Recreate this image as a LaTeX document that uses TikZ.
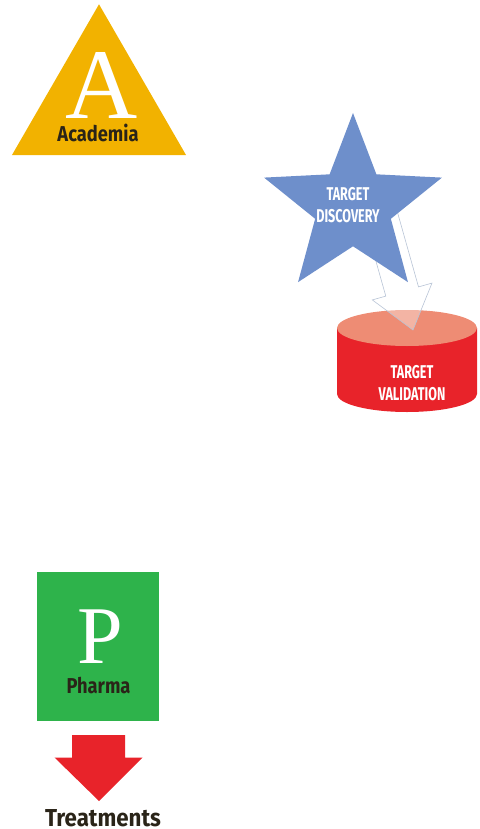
\documentclass[tikz,border=0pt]{standalone}
\usepackage{fontspec}
\setmainfont{Liberation Serif}
\newfontfamily\condfont{Fira Sans}[FakeStretch=0.85]
\newfontfamily\capsfont{Fira Sans}[FakeStretch=0.68]
\usetikzlibrary{shapes.geometric, positioning, calc}

\definecolor{acadgold}{HTML}{F2B200}
\definecolor{discblue}{HTML}{6E8FCB}
\definecolor{cylred}{HTML}{E8232A}
\definecolor{cyltop}{HTML}{EE8C74}
\definecolor{arrline}{HTML}{B8C4D6}
\definecolor{pharmagreen}{HTML}{2EB34B}
\definecolor{darktext}{HTML}{2A2418}

\begin{document}
\begin{tikzpicture}[x=1pt, y=-1pt]
					\tikzstyle{bigletter}=[text=white, inner sep=0, anchor=base, text depth=0pt, text height=66pt, font=\fontsize{100}{100}\selectfont]
					\tikzstyle{word}=[text=darktext, inner sep=0, anchor=base, text depth=0pt, font=\condfont\bfseries\fontsize{21.5}{24}\selectfont]
					\tikzstyle{capsword}=[text=white, inner sep=0, align=center, font=\capsfont\bfseries\fontsize{18.5}{21.5}\selectfont]
					\useasboundingbox (0,0) rectangle (479,829);
					% academia
					\node (acad) [regular polygon, regular polygon sides=3, fill=acadgold, minimum size=201pt, inner sep=0, outer sep=0] at (99,104.8) {};
					\node (acadA) [bigletter] at (102,119) {A};
					\node (acadlbl) [word] at (98,142) {Academia};
					% target validation, arrow goes under the star
					\coordinate (disccenter) at (353,206.5);
					\node (valid) [rectangle, minimum width=140pt, minimum height=102pt, inner sep=0, outer sep=0] at (407,361) {};
					\fill[cylred] ($(valid.north west)+(0,18)$) -- ($(valid.south west)+(0,-18)$) arc[start angle=180, end angle=360, x radius=70pt, y radius=18pt]
						-- ($(valid.north east)+(0,18)$) -- cycle;
					\fill[cyltop] ($(valid.north)+(0,18)$) ellipse[x radius=70pt, y radius=18pt];
					\node (validlbl) [capsword] at (412,383) {TARGET\\VALIDATION};
					\coordinate (arrtail) at ($(disccenter)+(28,10)$);
					\coordinate (arrtip) at ($(valid.center)+(6,-31)$);
					\coordinate (arrbase) at ($(arrtip)!40pt!(arrtail)$);
					\draw[draw=arrline, fill=white, fill opacity=0.35, line width=0.6pt, line join=miter]
						($(arrtail)!17pt!90:(arrtip)$) -- ($(arrbase)!17pt!-90:(arrtail)$) -- ($(arrbase)!31pt!-90:(arrtail)$) -- (arrtip)
						-- ($(arrbase)!31pt!90:(arrtail)$) -- ($(arrbase)!17pt!90:(arrtail)$) -- ($(arrtail)!17pt!-90:(arrtip)$) -- cycle;
					% target discovery
					\node (disc) [star, star points=5, star point ratio=2.35, fill=discblue, minimum size=187pt, inner sep=0, outer sep=0] at (disccenter) {};
					\node (disclbl) [capsword] at (348,205) {TARGET\\DISCOVERY};
					% pharma
					\node (pharma) [rectangle, fill=pharmagreen, minimum width=122pt, minimum height=149pt, inner sep=0, outer sep=0] at (98,646.5) {};
					\node (pharmaP) [bigletter, text height=54pt, font=\fontsize{82}{82}\selectfont] at (100,663) {P};
					\node (pharmalbl) [word] at (98.5,693) {Pharma};
					\coordinate (down) at ($(pharma.south)+(0.5,14)$);
					\fill[cylred] ($(down)+(-26.5,0)$) -- ($(down)+(26.5,0)$) -- ($(down)+(26.5,22.5)$) -- ($(down)+(44,22.5)$)
						-- ($(down)+(0.5,66)$) -- ($(down)+(-44,22.5)$) -- ($(down)+(-26.5,22.5)$) -- cycle;
					\node (treat) [word, font=\fontsize{24.5}{28}\selectfont\condfont\bfseries, xscale=1.07] at (103,826) {Treatments};
					%		\draw (down) -- (treat);
				\end{tikzpicture}
\end{document}
